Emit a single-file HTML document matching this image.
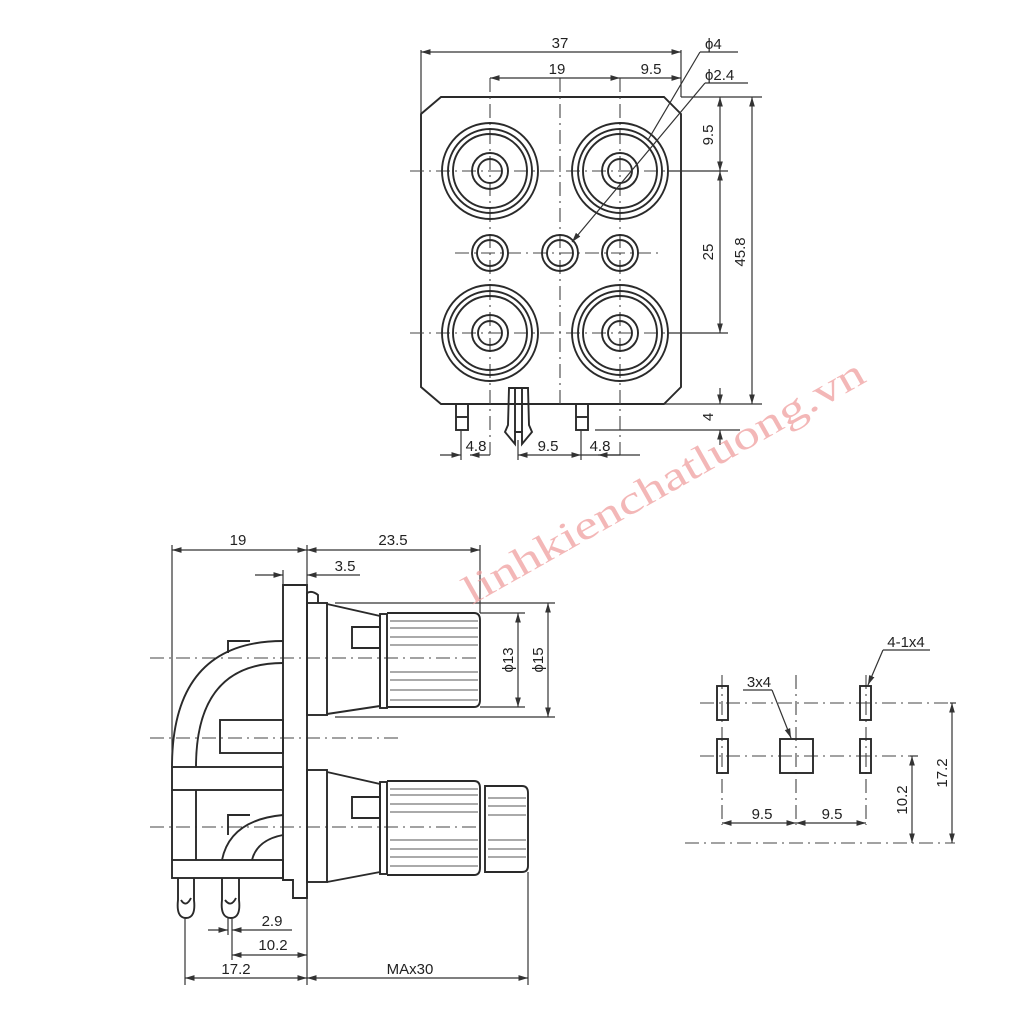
<!DOCTYPE html>
<html><head><meta charset="utf-8"><style>
html,body{margin:0;padding:0;background:#fff}
svg{display:block}
text{font-family:"Liberation Sans",Arial,sans-serif;fill:#222;font-size:15px}
.o{fill:none;stroke:#2a2a2a;stroke-width:1.9}
.d{fill:none;stroke:#333;stroke-width:1.2}
.c{fill:none;stroke:#444;stroke-width:1.1;stroke-dasharray:14 5 2 5}
</style></head><body>
<svg width="1024" height="1024" viewBox="0 0 1024 1024" xmlns="http://www.w3.org/2000/svg">
<defs>
<marker id="a" viewBox="0 0 10 10" refX="10" refY="5" markerWidth="8" markerHeight="8" orient="auto-start-reverse"><path d="M0,2 L10,5 L0,8 z" fill="#333"/></marker>
</defs>

<!-- ===== TOP VIEW ===== -->
<path class="o" d="M441,97 L664,97 L681,114 L681,387 L664,404 L441,404 L421,387 L421,114 Z"/>
<g class="c">
<line x1="490" y1="78" x2="490" y2="455"/><line x1="560" y1="78" x2="560" y2="404"/><line x1="620" y1="78" x2="620" y2="455"/>
<line x1="410" y1="171" x2="720" y2="171"/><line x1="455" y1="253" x2="660" y2="253"/><line x1="410" y1="333" x2="720" y2="333"/>
</g>
<g class="o">
<circle cx="490" cy="171" r="48"/><circle cx="490" cy="171" r="42"/><circle cx="490" cy="171" r="37"/><circle cx="490" cy="171" r="18"/><circle cx="490" cy="171" r="12"/>
<circle cx="620" cy="171" r="48"/><circle cx="620" cy="171" r="42"/><circle cx="620" cy="171" r="37"/><circle cx="620" cy="171" r="18"/><circle cx="620" cy="171" r="12"/>
<circle cx="490" cy="333" r="48"/><circle cx="490" cy="333" r="42"/><circle cx="490" cy="333" r="37"/><circle cx="490" cy="333" r="18"/><circle cx="490" cy="333" r="12"/>
<circle cx="620" cy="333" r="48"/><circle cx="620" cy="333" r="42"/><circle cx="620" cy="333" r="37"/><circle cx="620" cy="333" r="18"/><circle cx="620" cy="333" r="12"/>
<circle cx="490" cy="253" r="18"/><circle cx="490" cy="253" r="13"/>
<circle cx="560" cy="253" r="18"/><circle cx="560" cy="253" r="13"/>
<circle cx="620" cy="253" r="18"/><circle cx="620" cy="253" r="13"/>
<rect x="456" y="404" width="12" height="26"/><line x1="456" y1="417" x2="468" y2="417"/>
<rect x="576" y="404" width="12" height="26"/><line x1="576" y1="417" x2="588" y2="417"/>
<path d="M509,388 L528,388 L529,425 L532,432 L522,444 L522,432 L515,432 L515,444 L505,432 L508,425 Z"/>
<line x1="515" y1="388" x2="515" y2="432"/><line x1="522" y1="388" x2="522" y2="432"/>
</g>
<!-- top dims -->
<g class="d">
<line x1="421" y1="50" x2="421" y2="113"/><line x1="681" y1="50" x2="681" y2="97"/>
<line x1="421" y1="52" x2="681" y2="52" marker-start="url(#a)" marker-end="url(#a)"/>
<line x1="490" y1="78" x2="620" y2="78" marker-start="url(#a)" marker-end="url(#a)"/>
<line x1="620" y1="78" x2="681" y2="78" marker-end="url(#a)"/>
<line x1="700" y1="52" x2="738" y2="52"/><line x1="700" y1="52" x2="648" y2="140"/>
<line x1="705" y1="83" x2="748" y2="83"/><line x1="705" y1="83" x2="572" y2="242" marker-end="url(#a)"/>
<line x1="681" y1="97" x2="762" y2="97"/><line x1="668" y1="171" x2="728" y2="171"/><line x1="668" y1="333" x2="728" y2="333"/><line x1="664" y1="404" x2="762" y2="404"/>
<line x1="720" y1="97" x2="720" y2="171" marker-start="url(#a)" marker-end="url(#a)"/>
<line x1="720" y1="171" x2="720" y2="333" marker-start="url(#a)" marker-end="url(#a)"/>
<line x1="752" y1="97" x2="752" y2="404" marker-start="url(#a)" marker-end="url(#a)"/>
<line x1="720" y1="388" x2="720" y2="404" marker-end="url(#a)"/>
<line x1="720" y1="445" x2="720" y2="430" marker-end="url(#a)"/>
<line x1="595" y1="430" x2="740" y2="430"/>
<line x1="461" y1="430" x2="461" y2="460"/><line x1="518" y1="440" x2="518" y2="460"/><line x1="581" y1="430" x2="581" y2="460"/>
<line x1="440" y1="455" x2="461" y2="455" marker-end="url(#a)"/><line x1="490" y1="455" x2="470" y2="455" marker-end="url(#a)"/>
<line x1="518" y1="455" x2="581" y2="455" marker-start="url(#a)" marker-end="url(#a)"/>
<line x1="581" y1="455" x2="640" y2="455"/><line x1="620" y1="455" x2="598" y2="455" marker-end="url(#a)"/>
</g>
<text x="560" y="48" text-anchor="middle">37</text>
<text x="557" y="74" text-anchor="middle">19</text>
<text x="651" y="74" text-anchor="middle">9.5</text>
<text x="705" y="49">ϕ4</text>
<text x="705" y="80">ϕ2.4</text>
<text transform="translate(713,135) rotate(-90)" text-anchor="middle">9.5</text>
<text transform="translate(713,252) rotate(-90)" text-anchor="middle">25</text>
<text transform="translate(745,252) rotate(-90)" text-anchor="middle">45.8</text>
<text transform="translate(713,417) rotate(-90)" text-anchor="middle">4</text>
<text x="476" y="451" text-anchor="middle">4.8</text>
<text x="548" y="451" text-anchor="middle">9.5</text>
<text x="600" y="451" text-anchor="middle">4.8</text>

<!-- ===== SIDE VIEW ===== -->
<g class="c">
<line x1="150" y1="658" x2="480" y2="658"/><line x1="150" y1="738" x2="400" y2="738"/><line x1="150" y1="827" x2="480" y2="827"/>
</g>
<g class="o">
<path d="M283,585 L307,585 L307,898 L293,898 L293,880 L283,880 Z"/>
<path d="M307,603 L307,593 Q312,590 318,595 L318,603"/>
<rect x="307" y="603" width="20" height="112"/>
<path d="M327,604 L380,616 L380,706 L327,714"/>
<rect x="380" y="614" width="7" height="94"/>
<path d="M387,613 L474,613 Q480,613 480,620 L480,700 Q480,707 474,707 L387,707"/>
<path d="M380,627 L352,627 L352,648 L380,648"/>
<rect x="307" y="770" width="20" height="112"/>
<path d="M327,772 L380,784 L380,872 L327,882"/>
<rect x="380" y="782" width="7" height="92"/>
<path d="M387,781 L474,781 Q480,781 480,788 L480,868 Q480,875 474,875 L387,875"/>
<path d="M485,786 L522,786 Q528,786 528,793 L528,866 Q528,872 522,872 L485,872 Z"/>
<path d="M380,797 L352,797 L352,818 L380,818"/>
<path d="M283,641 Q172,641 172,767"/><path d="M283,663 Q196,663 196,767"/>
<path d="M228,653 L228,641 L250,641"/>
<rect x="220" y="720" width="63" height="33"/>
<rect x="172" y="767" width="111" height="23"/>
<rect x="172" y="860" width="111" height="18"/>
<line x1="172" y1="790" x2="172" y2="860"/><line x1="196" y1="790" x2="196" y2="860"/>
<path d="M228,835 L228,815 L250,815"/>
<path d="M283,815 Q230,820 222,860"/><path d="M283,835 Q257,840 252,860"/>
<path d="M178,878 L178,900 Q176,918 186,918 Q196,918 194,900 L194,878"/>
<path d="M181,900 Q186,908 191,898"/>
<path d="M222,878 L222,900 Q220,918 231,918 Q241,918 239,900 L239,878"/>
<path d="M225,900 Q231,908 236,898"/>
</g>
<g stroke="#555" stroke-width="1.1">
<line x1="390" y1="621" x2="478" y2="621"/><line x1="390" y1="628" x2="478" y2="628"/><line x1="390" y1="637" x2="478" y2="637"/><line x1="390" y1="645" x2="478" y2="645"/><line x1="390" y1="672" x2="478" y2="672"/><line x1="390" y1="680" x2="478" y2="680"/><line x1="390" y1="690" x2="478" y2="690"/><line x1="390" y1="700" x2="478" y2="700"/>
<line x1="390" y1="789" x2="478" y2="789"/><line x1="390" y1="795" x2="478" y2="795"/><line x1="390" y1="804" x2="478" y2="804"/><line x1="390" y1="812" x2="478" y2="812"/><line x1="390" y1="840" x2="478" y2="840"/><line x1="390" y1="849" x2="478" y2="849"/><line x1="390" y1="857" x2="478" y2="857"/><line x1="390" y1="866" x2="478" y2="866"/>
<line x1="488" y1="798" x2="526" y2="798"/><line x1="488" y1="806" x2="526" y2="806"/><line x1="488" y1="815" x2="526" y2="815"/><line x1="488" y1="840" x2="526" y2="840"/><line x1="488" y1="849" x2="526" y2="849"/><line x1="488" y1="857" x2="526" y2="857"/>
</g>
<g class="d">
<line x1="172" y1="545" x2="172" y2="767"/>
<line x1="307" y1="545" x2="307" y2="585"/><line x1="480" y1="545" x2="480" y2="613"/>
<line x1="172" y1="550" x2="307" y2="550" marker-start="url(#a)" marker-end="url(#a)"/>
<line x1="307" y1="550" x2="480" y2="550" marker-start="url(#a)" marker-end="url(#a)"/>
<line x1="283" y1="570" x2="283" y2="585"/>
<line x1="255" y1="575" x2="283" y2="575" marker-end="url(#a)"/>
<line x1="330" y1="575" x2="307" y2="575" marker-end="url(#a)"/>
<line x1="330" y1="575" x2="360" y2="575"/>
<line x1="335" y1="603" x2="555" y2="603"/><line x1="335" y1="717" x2="555" y2="717"/>
<line x1="480" y1="613" x2="525" y2="613"/><line x1="480" y1="707" x2="525" y2="707"/>
<line x1="518" y1="613" x2="518" y2="707" marker-start="url(#a)" marker-end="url(#a)"/>
<line x1="548" y1="603" x2="548" y2="717" marker-start="url(#a)" marker-end="url(#a)"/>
<line x1="185" y1="918" x2="185" y2="985"/><line x1="232" y1="918" x2="232" y2="960"/><line x1="228" y1="918" x2="228" y2="935"/>
<line x1="307" y1="898" x2="307" y2="985"/><line x1="528" y1="872" x2="528" y2="985"/>
<line x1="208" y1="930" x2="228" y2="930" marker-end="url(#a)"/>
<line x1="255" y1="930" x2="232" y2="930" marker-end="url(#a)"/><line x1="255" y1="930" x2="292" y2="930"/>
<line x1="232" y1="955" x2="307" y2="955" marker-start="url(#a)" marker-end="url(#a)"/>
<line x1="185" y1="978" x2="307" y2="978" marker-start="url(#a)" marker-end="url(#a)"/>
<line x1="307" y1="978" x2="528" y2="978" marker-start="url(#a)" marker-end="url(#a)"/>
</g>
<text x="238" y="545" text-anchor="middle">19</text>
<text x="393" y="545" text-anchor="middle">23.5</text>
<text x="345" y="571" text-anchor="middle">3.5</text>
<text transform="translate(513,660) rotate(-90)" text-anchor="middle">ϕ13</text>
<text transform="translate(543,660) rotate(-90)" text-anchor="middle">ϕ15</text>
<text x="272" y="926" text-anchor="middle">2.9</text>
<text x="273" y="950" text-anchor="middle">10.2</text>
<text x="236" y="974" text-anchor="middle">17.2</text>
<text x="410" y="974" text-anchor="middle">MAx30</text>

<!-- ===== FOOTPRINT ===== -->
<g class="c">
<line x1="700" y1="703" x2="950" y2="703"/><line x1="700" y1="756" x2="910" y2="756"/><line x1="685" y1="843" x2="955" y2="843"/>
<line x1="722" y1="675" x2="722" y2="825"/><line x1="796" y1="675" x2="796" y2="825"/><line x1="866" y1="675" x2="866" y2="825"/>
</g>
<g class="o">
<rect x="717" y="686" width="11" height="34"/><rect x="717" y="739" width="11" height="34"/>
<rect x="860" y="686" width="11" height="34"/><rect x="860" y="739" width="11" height="34"/>
<rect x="780" y="739" width="33" height="34"/>
</g>
<g class="d">
<line x1="722" y1="823" x2="796" y2="823" marker-start="url(#a)" marker-end="url(#a)"/>
<line x1="796" y1="823" x2="866" y2="823" marker-start="url(#a)" marker-end="url(#a)"/>
<line x1="910" y1="756" x2="918" y2="756"/>
<line x1="912" y1="756" x2="912" y2="843" marker-start="url(#a)" marker-end="url(#a)"/>
<line x1="950" y1="703" x2="956" y2="703"/>
<line x1="952" y1="703" x2="952" y2="843" marker-start="url(#a)" marker-end="url(#a)"/>
<line x1="743" y1="690" x2="772" y2="690"/><line x1="772" y1="690" x2="791" y2="738" marker-end="url(#a)"/>
<line x1="883" y1="650" x2="930" y2="650"/><line x1="883" y1="650" x2="868" y2="685" marker-end="url(#a)"/>
</g>
<text x="759" y="687" text-anchor="middle" font-size="14">3x4</text>
<text x="906" y="647" text-anchor="middle" font-size="14">4-1x4</text>
<text x="762" y="819" text-anchor="middle">9.5</text>
<text x="832" y="819" text-anchor="middle">9.5</text>
<text transform="translate(907,800) rotate(-90)" text-anchor="middle">10.2</text>
<text transform="translate(947,773) rotate(-90)" text-anchor="middle">17.2</text>

<!-- watermark -->
<text transform="translate(472,605) rotate(-29.5)" textLength="455" lengthAdjust="spacingAndGlyphs" style="font-family:'Liberation Serif',serif;font-size:40px;fill:#f0a0a0;opacity:0.75">linhkienchatluong.vn</text>
</svg>
</body></html>
